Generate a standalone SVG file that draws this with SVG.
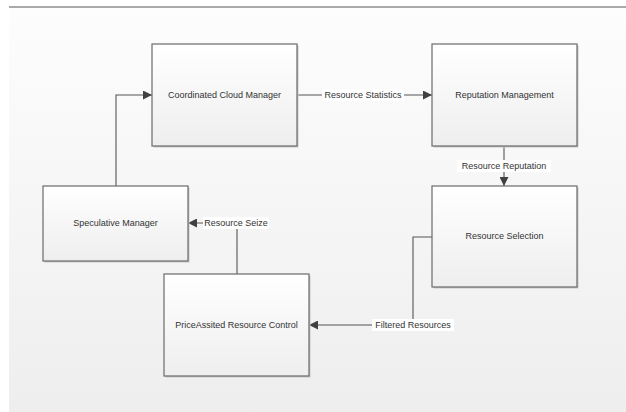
<svg xmlns="http://www.w3.org/2000/svg" width="626" height="412" viewBox="0 0 626 412">
<defs>
<linearGradient id="bg" x1="0" y1="0" x2="0" y2="1"><stop offset="0" stop-color="#fdfdfd"/><stop offset="1" stop-color="#eeeeee"/></linearGradient>
<linearGradient id="bx" x1="0" y1="0" x2="0" y2="1"><stop offset="0" stop-color="#ffffff"/><stop offset="1" stop-color="#eeeeee"/></linearGradient>
<marker id="ah" viewBox="0 0 10 10" refX="10" refY="5" markerWidth="9" markerHeight="9" markerUnits="userSpaceOnUse" orient="auto"><path d="M0,0 L10,5 L0,10 z" fill="#404040"/></marker>
<style>
.box{fill:url(#bx);stroke:#6a6a6a;stroke-width:1.2}
.sh{fill:#c8c8c8}
.t{font-family:"Liberation Sans",Arial,sans-serif;font-size:9px;fill:#333;text-anchor:middle;dominant-baseline:central}
.c{fill:none;stroke:#555;stroke-width:1.1}
.lb{fill:#ffffff}
</style>
</defs>
<rect x="9" y="8" width="617" height="404" fill="url(#bg)"/>
<line x1="9" y1="7" x2="626" y2="7" stroke="#555" stroke-width="1.2"/>
<g id="connectors">
<path class="c" d="M116,186 V95 H152" marker-end="url(#ah)"/>
<path class="c" d="M297,95 H432" marker-end="url(#ah)"/>
<rect class="lb" x="322" y="89" width="82" height="12"/>
<text class="t" x="363" y="95">Resource Statistics</text>
<path class="c" d="M504,147 V186" marker-end="url(#ah)"/>
<rect class="lb" x="457" y="160" width="94" height="12"/>
<text class="t" x="504" y="166">Resource Reputation</text>
<path class="c" d="M432,237 H413 V325 H309" marker-end="url(#ah)"/>
<rect class="lb" x="372" y="319" width="82" height="12"/>
<text class="t" x="413" y="325">Filtered Resources</text>
<path class="c" d="M237,274 V223 H188" marker-end="url(#ah)"/>
<rect class="lb" x="203" y="217" width="66" height="12"/>
<text class="t" x="236" y="223">Resource Seize</text>
</g>
<g id="ccm"><rect class="sh" x="153.5" y="45.5" width="145" height="102"/><rect class="box" x="152" y="44" width="145" height="102"/><text class="t" x="224.5" y="95">Coordinated Cloud Manager</text></g>
<g id="rm"><rect class="sh" x="433.5" y="45.5" width="145" height="102"/><rect class="box" x="432" y="44" width="145" height="102"/><text class="t" x="504.5" y="95">Reputation Management</text></g>
<g id="rs"><rect class="sh" x="433.5" y="187.5" width="145" height="101"/><rect class="box" x="432" y="186" width="145" height="101"/><text class="t" x="504.5" y="236">Resource Selection</text></g>
<g id="sm"><rect class="sh" x="44.5" y="187.5" width="145" height="75"/><rect class="box" x="43" y="186" width="145" height="75"/><text class="t" x="115.5" y="223">Speculative Manager</text></g>
<g id="parc"><rect class="sh" x="165.5" y="275.5" width="145" height="102"/><rect class="box" x="164" y="274" width="145" height="102"/><text class="t" x="236.5" y="325">PriceAssited Resource Control</text></g>
</svg>
